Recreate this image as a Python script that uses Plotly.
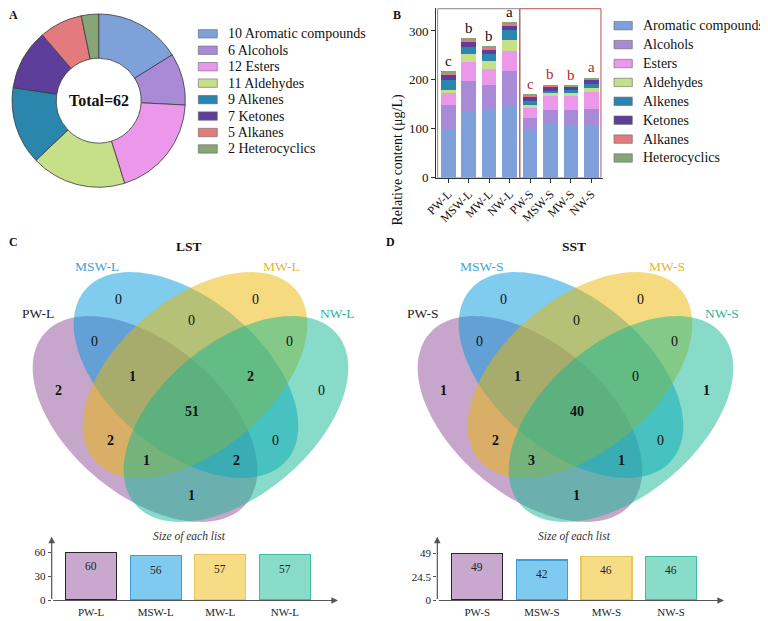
import math
import plotly.graph_objects as go

# the page puts the figure 8px in from the top-left corner, so the figure is
# 8px smaller and every position below is given in window pixels
OFF = 8
FW, FH = 768 - OFF, 621 - OFF
SERIF = "Liberation Serif, Times New Roman, serif"

# ===================== Data =====================
classes = ["Aromatic compounds", "Alcohols", "Esters", "Aldehydes",
           "Alkenes", "Ketones", "Alkanes", "Heterocyclics"]
class_counts = [10, 6, 12, 11, 9, 7, 5, 2]
class_colors = ["#7ea1d9", "#a98ad6", "#eb98ea", "#c6e08a",
                "#2a86ad", "#5d3f9b", "#e37a7d", "#87a677"]

samples = ["PW-L", "MSW-L", "MW-L", "NW-L", "PW-S", "MSW-S", "MW-S", "NW-S"]
aromatic = [97, 135, 141, 148, 97, 112, 108, 108]
alcohols = [51, 62, 49, 71, 24, 26, 30, 33]
esters = [25, 39, 33, 41, 22, 29, 28, 34]
aldehydes = [6, 16, 16, 21, 6, 5, 6, 8]
alkenes = [21, 16, 13, 20, 8, 5, 7, 9]
ketones = [11, 10, 11, 11, 9, 10, 7, 8]
alkanes = [3, 4, 4, 3, 2, 1, 1, 2]
heterocyclics = [2, 2, 1, 2, 1, 0.5, 0.5, 1]
sig_letters = ["c", "b", "b", "a", "c", "b", "b", "a"]

# venn regions (same order for both diagrams)
venn_regions = ["MSW", "MW", "MSW&MW", "PW&MSW", "MW&NW", "PW", "NW",
                "PW&MSW&MW", "MSW&MW&NW", "ALL", "PW&MW", "MSW&NW",
                "PW&MW&NW", "PW&MSW&NW", "PW&NW"]
lst_counts = [0, 0, 0, 0, 0, 2, 0, 1, 2, 51, 2, 0, 1, 2, 1]
sst_counts = [0, 0, 0, 0, 0, 1, 1, 1, 0, 40, 2, 0, 3, 1, 1]

lst_sets = ["PW-L", "MSW-L", "MW-L", "NW-L"]
sst_sets = ["PW-S", "MSW-S", "MW-S", "NW-S"]
lst_sizes = [60, 56, 57, 57]
sst_sizes = [49, 42, 46, 46]

# ===================== Helpers (window pixel -> paper) =====================
def X(px):
    return (px - OFF) / FW


def Y(py):
    return 1 - (py - OFF) / FH


def ellipse_path(cx, cy, a, b, ang, n=140):
    t = math.radians(ang)
    pts = []
    for k in range(n):
        s = 2 * math.pi * k / n
        x = cx + a * math.cos(s) * math.cos(t) - b * math.sin(s) * math.sin(t)
        y = cy + a * math.cos(s) * math.sin(t) + b * math.sin(s) * math.cos(t)
        pts.append(f"{X(x):.5f},{Y(y):.5f}")
    return "M" + " L".join(pts) + " Z"


fig = go.Figure()
shapes = []
annots = []


def txt(x, y, text, size=14, color="#111", anchor="center", **kw):
    annots.append(dict(x=X(x), y=Y(y), xref="paper", yref="paper", text=text,
                       showarrow=False, xanchor=anchor, yanchor="middle",
                       font=dict(family=SERIF, size=size, color=color), **kw))


# ===================== A: donut =====================
fig.add_trace(go.Pie(
    labels=classes, values=class_counts, hole=0.49, sort=False,
    direction="clockwise", textinfo="none", showlegend=False,
    marker=dict(colors=class_colors, line=dict(color="#3a3a3a", width=0.8)),
    domain=dict(x=[X(11.7), X(185.7)], y=[Y(187.3), Y(14)]),
    hoverinfo="label+value"
))
txt(98.7, 100.7, f"<b>Total={sum(class_counts)}</b>", size=16)
txt(13, 15, "<b>A</b>", size=12)

for i, (name, n, c) in enumerate(zip(classes, class_counts, class_colors)):
    yc = 33.8 + 16.45 * i
    shapes.append(dict(type="rect", xref="paper", yref="paper",
                       x0=X(198.3), x1=X(217.3), y0=Y(yc + 4.2), y1=Y(yc - 4.2),
                       fillcolor=c, line=dict(color="#666", width=0.6)))
    txt(226, yc, f"{n} {name}", size=14, anchor="left")

# ===================== B: stacked bars =====================
series = [aromatic, alcohols, esters, aldehydes, alkenes, ketones, alkanes, heterocyclics]
for name, vals, c in zip(classes, series, class_colors):
    fig.add_trace(go.Bar(x=samples, y=vals, name=name, marker_color=c,
                         marker_line_width=0, showlegend=False,
                         xaxis="x", yaxis="y"))

for i, (s, letter) in enumerate(zip(samples, sig_letters)):
    total = sum(col[i] for col in series)
    annots.append(dict(x=s, y=total, xref="x", yref="y", text=letter,
                       showarrow=False, yshift=11, yanchor="middle",
                       font=dict(family=SERIF, size=15,
                                 color="#111" if i < 4 else "#b02a2a")))

shapes.append(dict(type="rect", xref="x", yref="y", x0=-0.52, x1=3.5, y0=0, y1=345.5,
                   line=dict(color="#8f8585", width=1), layer="above"))
shapes.append(dict(type="rect", xref="x", yref="y", x0=3.5, x1=7.47, y0=0, y1=345.5,
                   line=dict(color="#c0504d", width=1), layer="above"))

annots.append(dict(x=X(397), y=Y(93), xref="paper", yref="paper",
                   text="Relative content (μg/L)", textangle=-90, showarrow=False,
                   font=dict(family=SERIF, size=14, color="#111")))
txt(397, 15, "<b>B</b>", size=12)

for i, (name, c) in enumerate(zip(classes, class_colors)):
    yc = 25.7 + 18.9 * i
    shapes.append(dict(type="rect", xref="paper", yref="paper",
                       x0=X(614), x1=X(632.3), y0=Y(yc + 4.2), y1=Y(yc - 4.2),
                       fillcolor=c, line=dict(color="#666", width=0.6)))
    txt(641, yc, name, size=14, anchor="left")

# ===================== C / D: Venn diagrams =====================
venn_fill = ["rgba(143,77,153,0.5)", "rgba(0,153,223,0.5)",
             "rgba(235,181,0,0.5)", "rgba(17,183,145,0.5)"]
venn_geom = [(145, 419, 40), (186, 375, 40), (195, 375, -40), (236, 419, -40)]
region_pos = [(118.3, 299.3), (255, 299.3), (191.7, 320), (94, 341), (289.3, 341),
              (58.3, 390), (321, 390), (132.7, 376), (250, 376), (191.7, 411.7),
              (110.7, 440), (275, 440), (146, 460), (236.7, 460), (191.7, 495)]
set_label_pos = [(38.3, 314), (96.5, 266), (281.5, 266), (337, 314)]
set_label_col = ["#222222", "#3aa5dc", "#e3b63a", "#2fb39b"]

for off, sets, counts, title, letter in [(0, lst_sets, lst_counts, "LST", "C"),
                                         (385, sst_sets, sst_counts, "SST", "D")]:
    for (cx, cy, ang), fc in zip(venn_geom, venn_fill):
        shapes.append(dict(type="path", xref="paper", yref="paper",
                           path=ellipse_path(cx + off, cy, 132, 76, ang),
                           fillcolor=fc, line=dict(width=0)))
    for (x, y), n in zip(region_pos, counts):
        txt(x + off, y, f"<b>{n}</b>" if n else str(n), size=14)
    for (x, y), s, c in zip(set_label_pos, sets, set_label_col):
        txt(x + off, y, s, size=13.5, color=c)
    txt(189 + off, 246, f"<b>{title}</b>", size=13.5)
    txt(max(13, 6 + off), 242, f"<b>{letter}</b>", size=12)
    txt(189 + off, 536, "<i>Size of each list</i>", size=11.5, color="#333")

# ===================== Size of each list bars =====================
size_fill = ["#c8a9cd", "#7fcbf0", "#f6dc84", "#88dcc8"]
size_line = ["#2e2430", "#3a9fd8", "#e6c65a", "#3fbf9f"]

for sets, sizes, ax in [(lst_sets, lst_sizes, "3"), (sst_sets, sst_sizes, "4")]:
    fig.add_trace(go.Bar(x=sets, y=sizes, width=0.79, showlegend=False,
                         marker=dict(color=size_fill, line=dict(color=size_line, width=1.2)),
                         xaxis="x" + ax, yaxis="y" + ax))
    for s, v in zip(sets, sizes):
        annots.append(dict(x=s, y=v, xref="x" + ax, yref="y" + ax, text=str(v),
                           showarrow=False, yshift=-14, yanchor="middle",
                           font=dict(family=SERIF, size=11.5, color="#222")))

for x0, x1 in [(51.7, 338), (437.3, 724)]:
    annots.append(dict(x=X(x1), y=Y(600.5), xref="paper", yref="paper", text="",
                       showarrow=True, ax=-(x1 - x0), ay=0, arrowhead=2,
                       arrowsize=1.1, arrowwidth=1.2, arrowcolor="#555"))
    annots.append(dict(x=X(x0), y=Y(536.7), xref="paper", yref="paper", text="",
                       showarrow=True, ax=0, ay=63.8, arrowhead=2,
                       arrowsize=1.1, arrowwidth=1.2, arrowcolor="#555"))

# ===================== Layout =====================
small_x = dict(showgrid=False, zeroline=False, showline=False, ticks="", automargin=False,
               ticklabelstandoff=4, tickfont=dict(family=SERIF, size=11, color="#222"))
small_y = dict(showgrid=False, zeroline=False, showline=False, ticks="outside", automargin=False,
               ticklen=3, tickcolor="#555", tickfont=dict(family=SERIF, size=11, color="#222"),
               domain=[Y(600), Y(540)])

fig.update_layout(
    width=FW, height=FH, autosize=False,
    margin=dict(l=0, r=0, t=0, b=0, pad=0, autoexpand=False),
    paper_bgcolor="white", plot_bgcolor="white",
    barmode="stack", bargap=0.29, showlegend=False,
    font=dict(family=SERIF, color="#111"),
    xaxis=dict(domain=[X(436), X(603)], range=[-0.6, 7.57], anchor="y", automargin=False,
               showline=True, linecolor="#333", linewidth=1, ticks="outside",
               ticklen=4, tickcolor="#333", tickangle=-45, showgrid=False,
               tickfont=dict(family=SERIF, size=12, color="#111")),
    yaxis=dict(domain=[Y(177.5), Y(8)], range=[0, 347], anchor="x", automargin=False,
               tickvals=[0, 100, 200, 300], showline=True, linecolor="#333",
               linewidth=1, ticks="outside", ticklen=4, tickcolor="#333",
               showgrid=False, zeroline=False,
               tickfont=dict(family=SERIF, size=13, color="#111")),
    xaxis3=dict(domain=[X(51.7), X(338)], range=[-0.61, 3.823], anchor="y3", **small_x),
    yaxis3=dict(range=[0, 75.5], anchor="x3", tickvals=[0, 30, 60], **small_y),
    xaxis4=dict(domain=[X(437.3), X(724)], range=[-0.62, 3.82], anchor="y4", **small_x),
    yaxis4=dict(range=[0, 63], anchor="x4", tickvals=[0, 24.5, 49],
                ticktext=["0", "24.5", "49"], **small_y),
    shapes=shapes,
    annotations=annots,
)

fig.write_html("out.html")
